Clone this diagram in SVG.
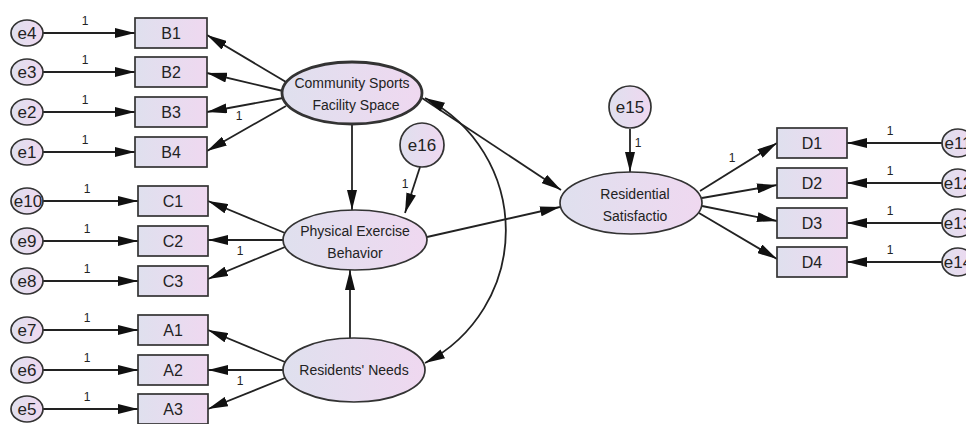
<svg xmlns="http://www.w3.org/2000/svg" width="966" height="424" viewBox="0 0 966 424">
<defs>
<linearGradient id="g" x1="0" y1="0" x2="1" y2="0">
<stop offset="0" stop-color="#dfe0ee"/>
<stop offset="1" stop-color="#efd8f0"/>
</linearGradient>
<marker id="ah" markerUnits="userSpaceOnUse" markerWidth="20" markerHeight="10" refX="20" refY="5" orient="auto-start-reverse" viewBox="0 0 20 10">
<path d="M0,0 L20,5 L0,10 z" fill="#111"/>
</marker>
</defs>
<style>
.n{fill:url(#g);stroke:#333;stroke-width:1.7}
.thick{stroke-width:2.8}
.c line,.c path{stroke:#222;stroke-width:1.8;fill:none;marker-end:url(#ah)}
.c path.both{marker-start:url(#ah)}
.t{font-family:"Liberation Sans",Arial,sans-serif;fill:#222;text-anchor:middle}
.lab{font-size:16px}
.el{font-size:17px}
.lat{font-size:14px}
.one{font-family:"Liberation Sans",Arial,sans-serif;font-size:12px;fill:#222;text-anchor:middle}
</style>
<rect width="966" height="424" fill="#fff"/>

<g id="connectors" class="c">
<line x1="43" y1="33" x2="135" y2="33"/>
<line x1="43" y1="72" x2="135" y2="72"/>
<line x1="43" y1="112" x2="135" y2="112"/>
<line x1="43" y1="152" x2="135" y2="152"/>
<line x1="43" y1="201" x2="138" y2="201"/>
<line x1="43" y1="241" x2="138" y2="241"/>
<line x1="43" y1="281" x2="138" y2="281"/>
<line x1="43" y1="330" x2="138" y2="330"/>
<line x1="43" y1="370" x2="138" y2="370"/>
<line x1="43" y1="409" x2="138" y2="409"/>
<line x1="286" y1="82" x2="207" y2="35"/>
<line x1="283" y1="91" x2="207" y2="73"/>
<line x1="283" y1="98" x2="207" y2="112"/>
<line x1="286" y1="106" x2="207" y2="151"/>
<line x1="285" y1="233" x2="208" y2="201"/>
<line x1="283" y1="240" x2="208" y2="240"/>
<line x1="285" y1="247" x2="208" y2="279"/>
<line x1="285" y1="362" x2="208" y2="330"/>
<line x1="283" y1="370" x2="208" y2="370"/>
<line x1="285" y1="378" x2="208" y2="409"/>
<line x1="352" y1="125" x2="352" y2="210"/>
<line x1="350" y1="338" x2="350" y2="270"/>
<line x1="420" y1="167" x2="405" y2="213"/>
<line x1="630" y1="129" x2="630" y2="172"/>
<line x1="427" y1="237" x2="560" y2="207"/>
<line x1="422" y1="98" x2="561" y2="190"/>
<path class="both" d="M425,98 A149,149 0 0 1 425,363"/>
<line x1="700" y1="191" x2="777" y2="143"/>
<line x1="702" y1="198" x2="777" y2="185"/>
<line x1="702" y1="206" x2="777" y2="221"/>
<line x1="699" y1="213" x2="777" y2="259"/>
<line x1="942" y1="143" x2="847" y2="143"/>
<line x1="942" y1="183" x2="847" y2="183"/>
<line x1="942" y1="223" x2="847" y2="223"/>
<line x1="942" y1="262" x2="847" y2="262"/>
</g>

<g id="loadings">
<text class="one" x="85" y="25">1</text>
<text class="one" x="85" y="64">1</text>
<text class="one" x="85" y="104">1</text>
<text class="one" x="85" y="144">1</text>
<text class="one" x="87" y="193">1</text>
<text class="one" x="87" y="233">1</text>
<text class="one" x="87" y="273">1</text>
<text class="one" x="87" y="322">1</text>
<text class="one" x="87" y="362">1</text>
<text class="one" x="87" y="401">1</text>
<text class="one" x="239" y="120">1</text>
<text class="one" x="240" y="255">1</text>
<text class="one" x="240" y="385">1</text>
<text class="one" x="405" y="188">1</text>
<text class="one" x="638" y="147">1</text>
<text class="one" x="732" y="162">1</text>
<text class="one" x="890" y="135">1</text>
<text class="one" x="890" y="175">1</text>
<text class="one" x="890" y="215">1</text>
<text class="one" x="890" y="254">1</text>
</g>

<g id="e4"><ellipse class="n" cx="27" cy="33" rx="16" ry="13"/><text class="t el" x="27" y="39">e4</text></g>
<g id="e3"><ellipse class="n" cx="27" cy="72" rx="16" ry="13"/><text class="t el" x="27" y="78">e3</text></g>
<g id="e2"><ellipse class="n" cx="27" cy="112" rx="16" ry="13"/><text class="t el" x="27" y="118">e2</text></g>
<g id="e1"><ellipse class="n" cx="27" cy="152" rx="16" ry="13"/><text class="t el" x="27" y="158">e1</text></g>
<g id="e10"><ellipse class="n" cx="27" cy="201" rx="16" ry="13"/><text class="t el" x="28" y="207">e10</text></g>
<g id="e9"><ellipse class="n" cx="27" cy="241" rx="16" ry="13"/><text class="t el" x="27" y="247">e9</text></g>
<g id="e8"><ellipse class="n" cx="27" cy="281" rx="16" ry="13"/><text class="t el" x="27" y="287">e8</text></g>
<g id="e7"><ellipse class="n" cx="27" cy="330" rx="16" ry="13"/><text class="t el" x="27" y="336">e7</text></g>
<g id="e6"><ellipse class="n" cx="27" cy="370" rx="16" ry="13"/><text class="t el" x="27" y="376">e6</text></g>
<g id="e5"><ellipse class="n" cx="27" cy="409" rx="16" ry="13"/><text class="t el" x="27" y="415">e5</text></g>

<g id="B1"><rect class="n" x="135" y="18" width="72" height="30"/><text class="t lab" x="171" y="39">B1</text></g>
<g id="B2"><rect class="n" x="135" y="57" width="72" height="30"/><text class="t lab" x="171" y="78">B2</text></g>
<g id="B3"><rect class="n" x="135" y="97" width="72" height="30"/><text class="t lab" x="171" y="118">B3</text></g>
<g id="B4"><rect class="n" x="135" y="137" width="72" height="30"/><text class="t lab" x="171" y="158">B4</text></g>
<g id="C1"><rect class="n" x="138" y="186" width="70" height="30"/><text class="t lab" x="173" y="207">C1</text></g>
<g id="C2"><rect class="n" x="138" y="226" width="70" height="30"/><text class="t lab" x="173" y="247">C2</text></g>
<g id="C3"><rect class="n" x="138" y="266" width="70" height="30"/><text class="t lab" x="173" y="287">C3</text></g>
<g id="A1"><rect class="n" x="138" y="315" width="70" height="30"/><text class="t lab" x="173" y="336">A1</text></g>
<g id="A2"><rect class="n" x="138" y="355" width="70" height="30"/><text class="t lab" x="173" y="376">A2</text></g>
<g id="A3"><rect class="n" x="138" y="394" width="70" height="30"/><text class="t lab" x="173" y="415">A3</text></g>

<g id="community"><ellipse class="n thick" cx="352" cy="93" rx="70" ry="31"/><text class="t lat" x="352" y="88">Community Sports</text><text class="t lat" x="356" y="110">Facility Space</text></g>
<g id="physical"><ellipse class="n" cx="355" cy="240" rx="72" ry="30"/><text class="t lat" x="355" y="236">Physical Exercise</text><text class="t lat" x="355" y="258">Behavior</text></g>
<g id="residents"><ellipse class="n" cx="354" cy="370" rx="71" ry="32"/><text class="t lat" x="354" y="375">Residents' Needs</text></g>
<g id="satisfaction"><ellipse class="n" cx="631" cy="203" rx="71" ry="31"/><text class="t lat" x="635" y="199">Residential</text><text class="t lat" x="635" y="221">Satisfactio</text></g>
<g id="e16"><circle class="n" cx="422" cy="145" r="22"/><text class="t el" x="422" y="151">e16</text></g>
<g id="e15"><circle class="n" cx="630" cy="107" r="21"/><text class="t el" x="630" y="113">e15</text></g>

<g id="D1"><rect class="n" x="777" y="128" width="70" height="30"/><text class="t lab" x="812" y="149">D1</text></g>
<g id="D2"><rect class="n" x="777" y="168" width="70" height="30"/><text class="t lab" x="812" y="189">D2</text></g>
<g id="D3"><rect class="n" x="777" y="208" width="70" height="30"/><text class="t lab" x="812" y="229">D3</text></g>
<g id="D4"><rect class="n" x="777" y="247" width="70" height="30"/><text class="t lab" x="812" y="268">D4</text></g>

<g id="e11"><ellipse class="n" cx="958" cy="143" rx="16" ry="14"/><text class="t el" x="958" y="149">e11</text></g>
<g id="e12"><ellipse class="n" cx="958" cy="183" rx="16" ry="14"/><text class="t el" x="958" y="189">e12</text></g>
<g id="e13"><ellipse class="n" cx="958" cy="223" rx="16" ry="14"/><text class="t el" x="958" y="229">e13</text></g>
<g id="e14"><ellipse class="n" cx="958" cy="262" rx="16" ry="14"/><text class="t el" x="958" y="268">e14</text></g>
</svg>
